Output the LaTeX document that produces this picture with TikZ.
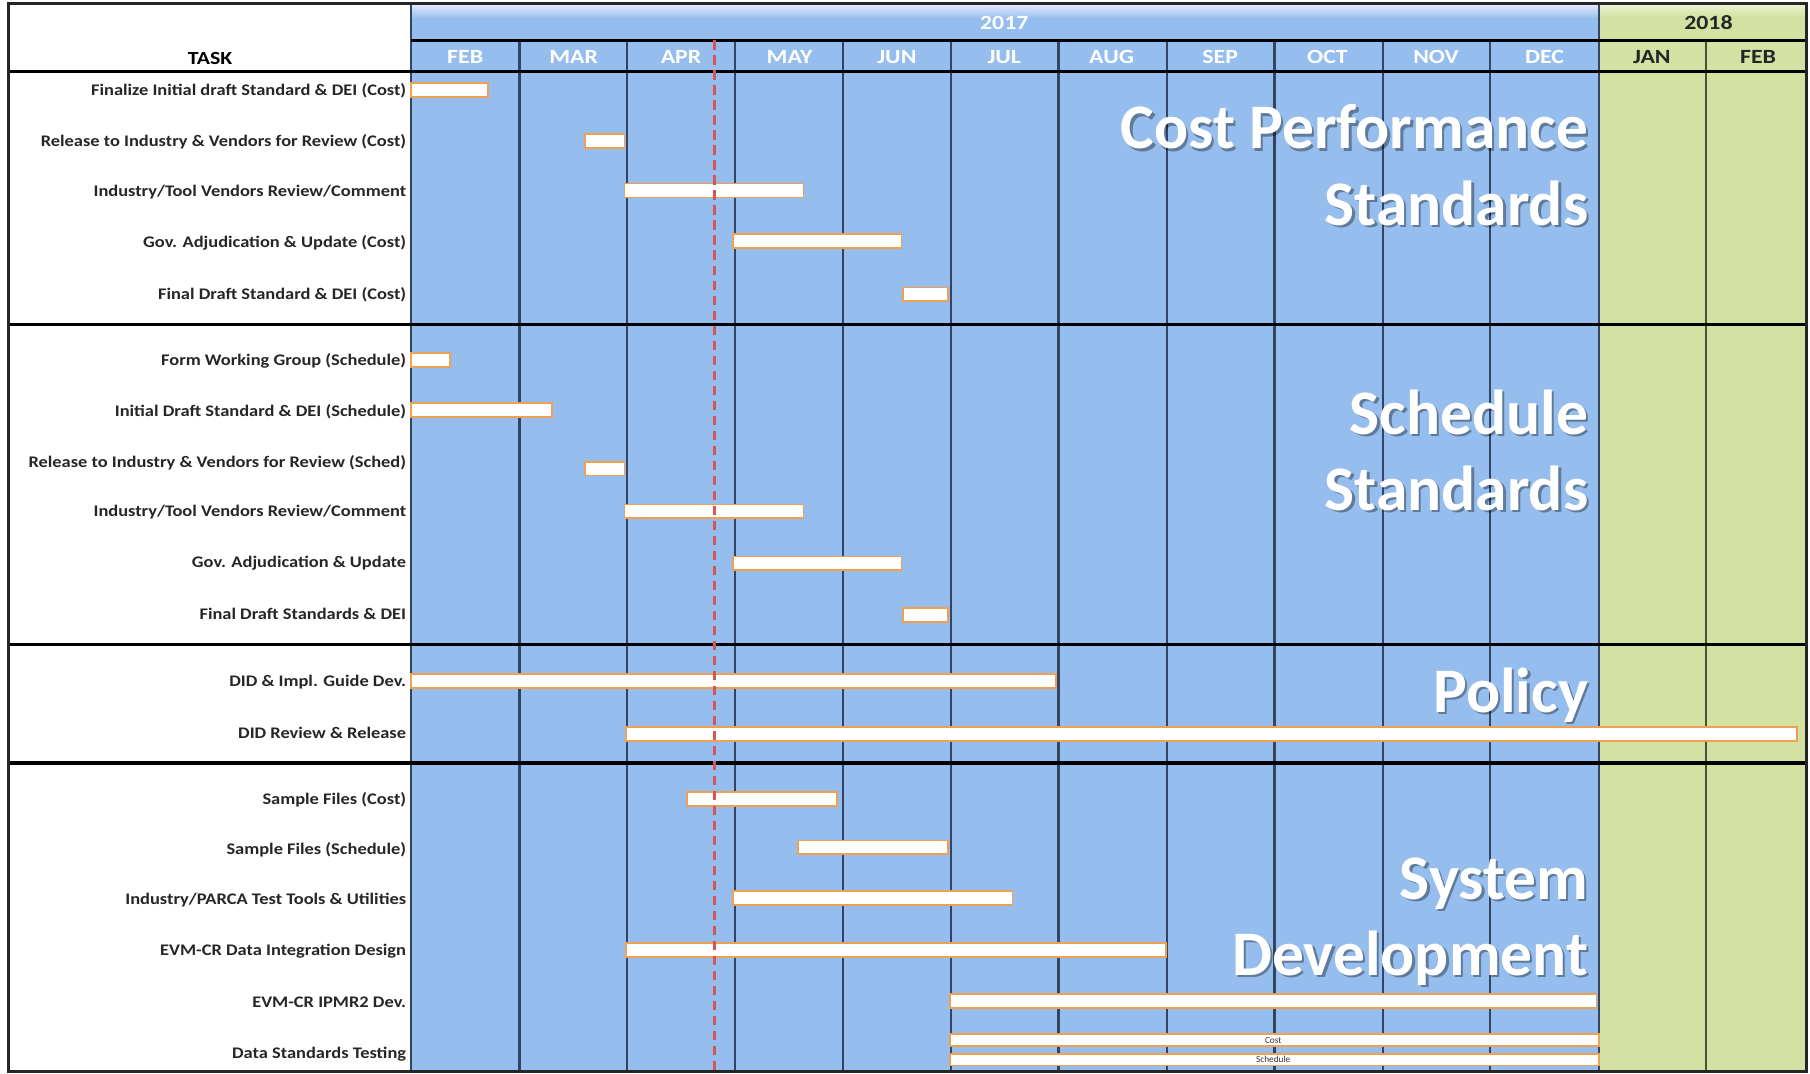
\documentclass[tikz,border=0pt]{standalone}
\usepackage{fontspec}
\setmainfont{Carlito}
\definecolor{chartblue}{RGB}{149,189,237}
\definecolor{chartgreen}{RGB}{211,226,162}
\definecolor{gridnavy}{RGB}{52,68,100}
\definecolor{gridolive}{RGB}{70,84,52}
\definecolor{barorange}{RGB}{240,160,80}
\definecolor{todayred}{RGB}{214,86,86}
\newcommand\widelbl[1]{\scalebox{1.14}[1]{#1}}
\newcommand\widehdr[1]{\scalebox{1.18}[1]{#1}}
\begin{document}
\begin{tikzpicture}[x=1pt,y=-1pt,
  bar/.style={draw=barorange,fill=white,line width=1.5},
  tasklbl/.style={anchor=east,inner sep=0,text=black!85,font=\fontsize{14}{14}\selectfont\bfseries},
  monthlbl/.style={inner sep=0,text=white,font=\fontsize{17.5}{17.5}\selectfont\bfseries},
  monthdark/.style={monthlbl,text=black!85},
  biglbl/.style={anchor=base east,inner sep=0,text=white,font=\fontsize{55}{66}\selectfont\bfseries},
  bigshadow/.style={biglbl,text=black,opacity=0.35},
  colline/.style={draw=gridnavy,line width=2},
  colgreen/.style={draw=gridolive,line width=2},
  secline/.style={draw=black,line width=2.8},
  tinylbl/.style={inner sep=0,font=\fontsize{8}{8}\selectfont,text=black!80}]
\useasboundingbox (0,0) rectangle (1568,930);
\fill[white] (0,0) rectangle (1568,930);
% backgrounds
\fill[chartblue] (356,3) rectangle (1385,928);
\fill[chartgreen] (1385,3) rectangle (1565,928);
\shade[top color=blue!8!white,bottom color=chartblue] (356,3) rectangle (1385,16);
\shade[top color=chartgreen!40!white,bottom color=chartgreen] (1385,3) rectangle (1565,14);
\fill[white] (7,3) rectangle (356,928);
% column lines
\foreach \xx in {450,543,637,730,824,917,1011,1104,1198,1291}
  \draw[colline] (\xx,35) -- (\xx,928);
\draw[colline] (1385,3) -- (1385,928);
\draw[colgreen] (1478,35) -- (1478,928);
\draw[colline] (356,3) -- (356,928);
% horizontal lines
\draw[draw=black,line width=2] (356,35) -- (1565,35);
\draw[secline] (7,62) -- (1565,62);
\draw[secline] (7,281) -- (1565,281);
\draw[secline] (7,558) -- (1565,558);
\draw[secline] (7,661) -- (1565,661);
% outer frame
\draw[draw=black!85,line width=2.5] (7,3) rectangle (1565,928);
% header text
\node[inner sep=0,font=\fontsize{16}{16}\selectfont\bfseries] (taskhdr) at (182,51) {\widehdr{TASK}};
\node[monthlbl] (y2017) at (870,20) {\widehdr{2017}};
\node[monthdark] (y2018) at (1480,20) {\widehdr{2018}};
\node[monthlbl] (m1) at (403,49) {\widehdr{FEB}};
\node[monthlbl] (m2) at (497,49) {\widehdr{MAR}};
\node[monthlbl] (m3) at (590,49) {\widehdr{APR}};
\node[monthlbl] (m4) at (684,49) {\widehdr{MAY}};
\node[monthlbl] (m5) at (777,49) {\widehdr{JUN}};
\node[monthlbl] (m6) at (870,49) {\widehdr{JUL}};
\node[monthlbl] (m7) at (963,49) {\widehdr{AUG}};
\node[monthlbl] (m8) at (1057,49) {\widehdr{SEP}};
\node[monthlbl] (m9) at (1150,49) {\widehdr{OCT}};
\node[monthlbl] (m10) at (1244,49) {\widehdr{NOV}};
\node[monthlbl] (m11) at (1338,49) {\widehdr{DEC}};
\node[monthdark] (m12) at (1431,49) {\widehdr{JAN}};
\node[monthdark] (m13) at (1523,49) {\widehdr{FEB}};
% bars
\draw[bar] (356,72) rectangle (423,84);
\draw[bar] (507,116) rectangle (541,128);
\draw[bar] (541,159) rectangle (696,171);
\draw[bar] (635,203) rectangle (781,215);
\draw[bar] (782,249) rectangle (821,261);
\draw[bar] (356,306) rectangle (390,318);
\draw[bar] (356,349) rectangle (478,361);
\draw[bar] (507,400) rectangle (541,412);
\draw[bar] (541,437) rectangle (696,449);
\draw[bar] (635,482) rectangle (781,494);
\draw[bar] (782,527) rectangle (821,539);
\draw[bar] (356,584) rectangle (915,596);
\draw[bar] (542,630) rectangle (1557,642);
\draw[bar] (595,686) rectangle (725,698);
\draw[bar] (691,728) rectangle (821,740);
\draw[bar] (635,772) rectangle (877,784);
\draw[bar] (542,817) rectangle (1010,829);
\draw[bar] (823,861) rectangle (1383,873);
\draw[bar] (823,896) rectangle (1385,906);
\draw[bar] (823,913) rectangle (1385,923);
\node[tinylbl] (costtag) at (1103,901) {Cost};
\node[tinylbl] (schedtag) at (1103,918) {Schedule};
% today line
\draw[todayred,line width=2.6,dash pattern=on 8pt off 5pt] (619,35) -- (619,928);
% task labels
\node[tasklbl] (t1) at (352,79) {\widelbl{Finalize Initial draft Standard \& DEI (Cost)}};
\node[tasklbl] (t2) at (352,123) {\widelbl{Release to Industry \& Vendors for Review (Cost)}};
\node[tasklbl] (t3) at (352,166) {\widelbl{Industry/Tool Vendors Review/Comment}};
\node[tasklbl] (t4) at (352,210) {\widelbl{Gov. Adjudication \& Update (Cost)}};
\node[tasklbl] (t5) at (352,255) {\widelbl{Final Draft Standard \& DEI (Cost)}};
\node[tasklbl] (t6) at (352,313) {\widelbl{Form Working Group (Schedule)}};
\node[tasklbl] (t7) at (352,357) {\widelbl{Initial Draft Standard \& DEI (Schedule)}};
\node[tasklbl] (t8) at (352,401) {\widelbl{Release to Industry \& Vendors for Review (Sched)}};
\node[tasklbl] (t9) at (352,444) {\widelbl{Industry/Tool Vendors Review/Comment}};
\node[tasklbl] (t10) at (352,488) {\widelbl{Gov. Adjudication \& Update}};
\node[tasklbl] (t11) at (352,532) {\widelbl{Final Draft Standards \& DEI}};
\node[tasklbl] (t12) at (352,591) {\widelbl{DID \& Impl. Guide Dev.}};
\node[tasklbl] (t13) at (352,635) {\widelbl{DID Review \& Release}};
\node[tasklbl] (t14) at (352,693) {\widelbl{Sample Files (Cost)}};
\node[tasklbl] (t15) at (352,736) {\widelbl{Sample Files (Schedule)}};
\node[tasklbl] (t16) at (352,780) {\widelbl{Industry/PARCA Test Tools \& Utilities}};
\node[tasklbl] (t17) at (352,824) {\widelbl{EVM-CR Data Integration Design}};
\node[tasklbl] (t18) at (352,868) {\widelbl{EVM-CR IPMR2 Dev.}};
\node[tasklbl] (t19) at (352,913) {\widelbl{Data Standards Testing}};
% big section labels
\foreach \nm/\yy/\txt in {c1/129/Cost Performance, c2/195/Standards, s1/376/Schedule, s2/442/Standards, p1/617/Policy, d1/779/System, d2/845/Development}{
  \node[bigshadow] at (1378,\yy+2) {\txt};
  \node[biglbl] (\nm) at (1376,\yy) {\txt};
}
\end{tikzpicture}
\end{document}
